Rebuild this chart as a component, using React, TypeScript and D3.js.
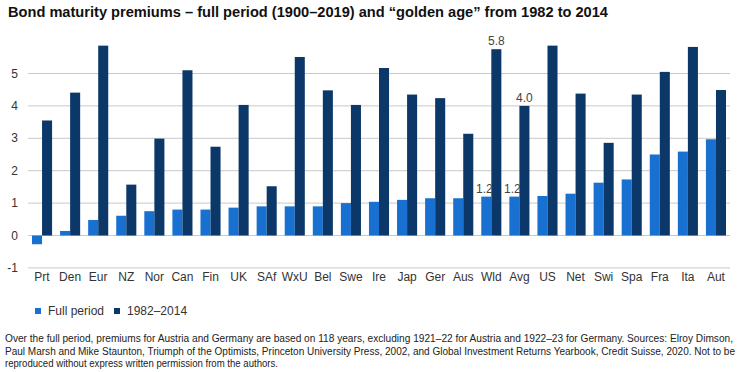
import { useEffect, useRef } from 'react';
import * as d3 from 'd3';

const categories = ['Prt', 'Den', 'Eur', 'NZ', 'Nor', 'Can', 'Fin', 'UK', 'SAf', 'WxU', 'Bel', 'Swe', 'Ire',
    'Jap', 'Ger', 'Aus', 'Wld', 'Avg', 'US', 'Net', 'Swi', 'Spa', 'Fra', 'Ita', 'Aut'];
const fullPeriod = [-0.27, 0.14, 0.48, 0.61, 0.75, 0.8, 0.8, 0.86, 0.9, 0.9, 0.9, 1.0, 1.04,
    1.1, 1.15, 1.15, 1.2, 1.2, 1.22, 1.29, 1.63, 1.73, 2.5, 2.59, 2.97];
const goldenAge = [3.55, 4.41, 5.86, 1.57, 2.99, 5.1, 2.74, 4.03, 1.52, 5.51, 4.48, 4.03, 5.17,
    4.35, 4.24, 3.14, 5.75, 4.0, 5.86, 4.38, 2.86, 4.35, 5.05, 5.82, 4.49];
const seriesNames = ['Full period', '1982\u20132014'];
const yTicks = [-1, 0, 1, 2, 3, 4, 5];
// bars that carry a value label: [category, series index, label]
const valueLabels: [string, number, string][] = [['Wld', 1, '5.8'], ['Avg', 1, '4.0'], ['Wld', 0, '1.2'], ['Avg', 0, '1.2']];

const title = 'Bond maturity premiums \u2013 full period (1900\u20132019) and \u201cgolden age\u201d from 1982 to 2014';
const footnote = [
    'Over the full period, premiums for Austria and Germany are based on 118 years, excluding 1921\u201322 for Austria and 1922\u201323 for Germany.  Sources: Elroy Dimson,',
    'Paul Marsh and Mike Staunton, Triumph of the Optimists, Princeton University Press, 2002, and Global Investment Returns Yearbook, Credit Suisse, 2020. Not to be',
    'reproduced without express written permission from the authors.',
];

const [width, height] = [740, 372];
const colors = ['#1870d0', '#0b3868'];
const narrow = '"Liberation Sans Narrow", "Arial Narrow", "Liberation Sans", Arial, sans-serif';

function App() {
    const node = useRef<SVGSVGElement>(null);
    useEffect(() => {
        if (!node.current) return;
        const svg = d3.select(node.current);
        svg.selectAll('*').remove();

        const x = d3.scaleBand().domain(categories).range([28, 730]);
        const xSub = d3.scaleBand().domain(['0', '1']).range([4, x.bandwidth() - 4]);
        const y = d3.scaleLinear().domain([-1, 5]).range([267.9, 73.5]);

        /** Title */
        svg.append('text')
            .attr('x', 8).attr('y', 17)
            .attr('font-family', '"Liberation Sans", Arial, sans-serif')
            .attr('font-weight', 'bold').attr('font-size', 14).attr('fill', '#111')
            .attr('textLength', 600).attr('lengthAdjust', 'spacingAndGlyphs')
            .text(title);

        /** Grid + y labels */
        const grid = svg.append('g');
        grid.selectAll('line').data(yTicks).enter().append('line')
            .attr('x1', 28).attr('x2', 730)
            .attr('y1', d => y(d)).attr('y2', d => y(d))
            .attr('stroke', '#c9c9c9').attr('stroke-width', 1);
        grid.selectAll('text').data(yTicks).enter().append('text')
            .attr('x', 18).attr('y', d => y(d) + 4)
            .attr('text-anchor', 'end')
            .attr('font-family', narrow).attr('font-size', 12).attr('fill', '#333')
            .text(d => d);

        /** Bars */
        const series = [fullPeriod, goldenAge];
        series.forEach((vals, s) => {
            svg.append('g').selectAll('rect').data(vals).enter().append('rect')
                .attr('x', (d, i) => (x(categories[i]) as number) + (xSub(String(s)) as number))
                .attr('y', d => y(Math.max(0, d)))
                .attr('width', xSub.bandwidth())
                .attr('height', d => Math.abs(y(d) - y(0)))
                .attr('fill', colors[s]);
        });

        /** Value labels */
        svg.append('g').selectAll('text').data(valueLabels).enter().append('text')
            .attr('x', d => (x(d[0]) as number) + (xSub(String(d[1])) as number) + xSub.bandwidth() / 2 - (d[1] === 0 ? 2 : 0))
            .attr('y', d => {
                const i = categories.indexOf(d[0]);
                return y(series[d[1]][i]) - 4;
            })
            .attr('text-anchor', 'middle')
            .attr('font-family', narrow).attr('font-size', 12).attr('fill', '#444')
            .text(d => d[2]);

        /** Category labels */
        svg.append('g').selectAll('text').data(categories).enter().append('text')
            .attr('x', d => (x(d) as number) + x.bandwidth() / 2)
            .attr('y', 281)
            .attr('text-anchor', 'middle')
            .attr('font-family', narrow).attr('font-size', 12).attr('fill', '#333')
            .text(d => d);

        /** Legend */
        const legendX = [35, 114];
        const legend = svg.append('g');
        seriesNames.forEach((name, s) => {
            legend.append('rect').attr('x', legendX[s]).attr('y', 308).attr('width', 6).attr('height', 6).attr('fill', colors[s]);
            legend.append('text').attr('x', legendX[s] + 13).attr('y', 315)
                .attr('font-family', narrow).attr('font-size', 12).attr('fill', '#333')
                .text(name);
        });

        /** Footnote */
        const footLen = [728, 730, 273];
        svg.append('g').selectAll('text').data(footnote).enter().append('text')
            .attr('x', 5).attr('y', (d, i) => 342 + i * 12.7)
            .attr('font-family', '"Liberation Sans", Arial, sans-serif').attr('font-size', 10).attr('fill', '#222')
            .attr('textLength', (d, i) => footLen[i]).attr('lengthAdjust', 'spacingAndGlyphs')
            .text(d => d);
    }, [node]);

    return (
        <svg ref={node} width={width} height={height}
            style={{ position: 'absolute', left: 0, top: 0, background: '#fff' }}></svg>
    );
}

export default App;
